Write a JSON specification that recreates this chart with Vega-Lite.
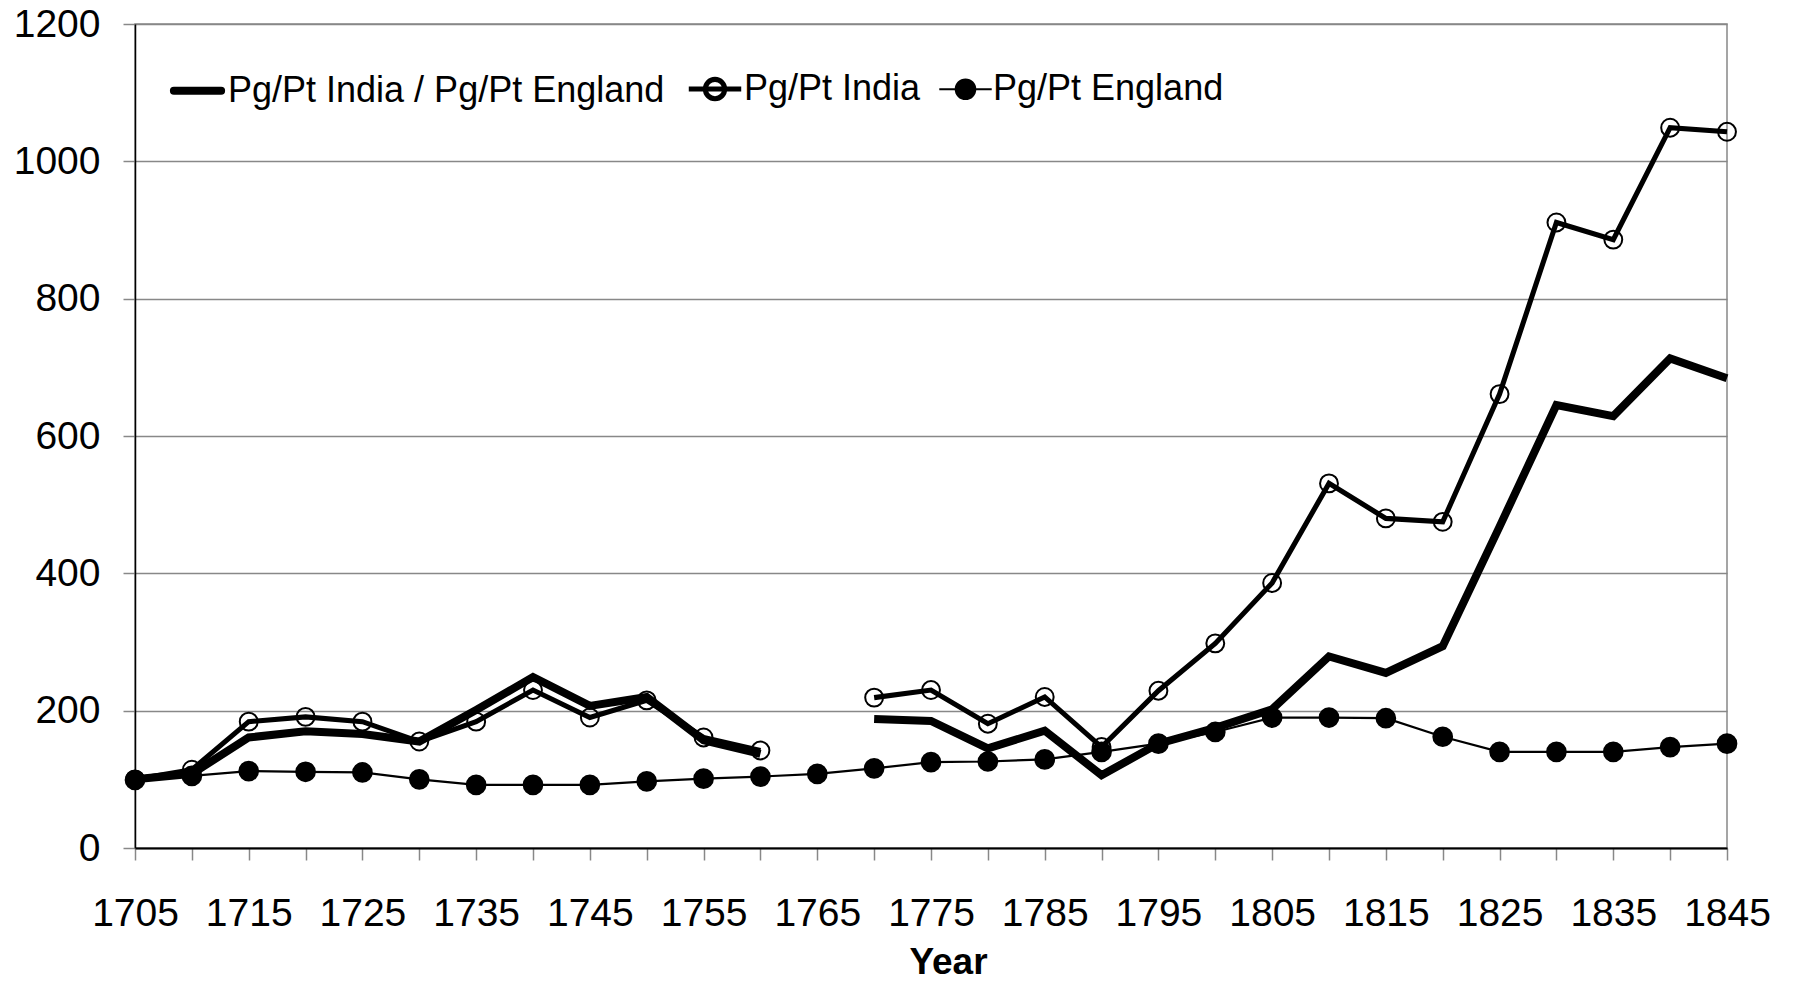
{
  "$schema": "https://vega.github.io/schema/vega-lite/v6.json",
  "autosize": {"type": "none"},
  "width": 1592,
  "height": 824,
  "padding": {"left": 135, "top": 24, "right": 66, "bottom": 135},
  "background": "white",
  "config": {
    "font": "Liberation Sans",
    "view": {"stroke": "#888888", "strokeWidth": 1.5}
  },
  "data": {
    "values": [
      {"year": 1705, "series": "Pg/Pt India / Pg/Pt England", "value": 100},
      {"year": 1710, "series": "Pg/Pt India / Pg/Pt England", "value": 108},
      {"year": 1715, "series": "Pg/Pt India / Pg/Pt England", "value": 161},
      {"year": 1720, "series": "Pg/Pt India / Pg/Pt England", "value": 170},
      {"year": 1725, "series": "Pg/Pt India / Pg/Pt England", "value": 166},
      {"year": 1730, "series": "Pg/Pt India / Pg/Pt England", "value": 155},
      {"year": 1735, "series": "Pg/Pt India / Pg/Pt England", "value": 201},
      {"year": 1740, "series": "Pg/Pt India / Pg/Pt England", "value": 249},
      {"year": 1745, "series": "Pg/Pt India / Pg/Pt England", "value": 207},
      {"year": 1750, "series": "Pg/Pt India / Pg/Pt England", "value": 220},
      {"year": 1755, "series": "Pg/Pt India / Pg/Pt England", "value": 157},
      {"year": 1760, "series": "Pg/Pt India / Pg/Pt England", "value": 137},
      {"year": 1765, "series": "Pg/Pt India / Pg/Pt England", "value": null},
      {"year": 1770, "series": "Pg/Pt India / Pg/Pt England", "value": 188},
      {"year": 1775, "series": "Pg/Pt India / Pg/Pt England", "value": 185},
      {"year": 1780, "series": "Pg/Pt India / Pg/Pt England", "value": 145},
      {"year": 1785, "series": "Pg/Pt India / Pg/Pt England", "value": 171},
      {"year": 1790, "series": "Pg/Pt India / Pg/Pt England", "value": 106},
      {"year": 1795, "series": "Pg/Pt India / Pg/Pt England", "value": 152},
      {"year": 1800, "series": "Pg/Pt India / Pg/Pt England", "value": 175},
      {"year": 1805, "series": "Pg/Pt India / Pg/Pt England", "value": 202},
      {"year": 1810, "series": "Pg/Pt India / Pg/Pt England", "value": 279},
      {"year": 1815, "series": "Pg/Pt India / Pg/Pt England", "value": 255},
      {"year": 1820, "series": "Pg/Pt India / Pg/Pt England", "value": 294},
      {"year": 1825, "series": "Pg/Pt India / Pg/Pt England", "value": 468},
      {"year": 1830, "series": "Pg/Pt India / Pg/Pt England", "value": 645},
      {"year": 1835, "series": "Pg/Pt India / Pg/Pt England", "value": 629},
      {"year": 1840, "series": "Pg/Pt India / Pg/Pt England", "value": 713},
      {"year": 1845, "series": "Pg/Pt India / Pg/Pt England", "value": 684},
      {"year": 1705, "series": "Pg/Pt India", "value": 100},
      {"year": 1710, "series": "Pg/Pt India", "value": 114},
      {"year": 1715, "series": "Pg/Pt India", "value": 184},
      {"year": 1720, "series": "Pg/Pt India", "value": 191},
      {"year": 1725, "series": "Pg/Pt India", "value": 184},
      {"year": 1730, "series": "Pg/Pt India", "value": 155},
      {"year": 1735, "series": "Pg/Pt India", "value": 184},
      {"year": 1740, "series": "Pg/Pt India", "value": 230},
      {"year": 1745, "series": "Pg/Pt India", "value": 190},
      {"year": 1750, "series": "Pg/Pt India", "value": 215},
      {"year": 1755, "series": "Pg/Pt India", "value": 161},
      {"year": 1760, "series": "Pg/Pt India", "value": 142},
      {"year": 1765, "series": "Pg/Pt India", "value": null},
      {"year": 1770, "series": "Pg/Pt India", "value": 219},
      {"year": 1775, "series": "Pg/Pt India", "value": 230},
      {"year": 1780, "series": "Pg/Pt India", "value": 181},
      {"year": 1785, "series": "Pg/Pt India", "value": 220},
      {"year": 1790, "series": "Pg/Pt India", "value": 147},
      {"year": 1795, "series": "Pg/Pt India", "value": 229},
      {"year": 1800, "series": "Pg/Pt India", "value": 298},
      {"year": 1805, "series": "Pg/Pt India", "value": 386},
      {"year": 1810, "series": "Pg/Pt India", "value": 531},
      {"year": 1815, "series": "Pg/Pt India", "value": 480},
      {"year": 1820, "series": "Pg/Pt India", "value": 475},
      {"year": 1825, "series": "Pg/Pt India", "value": 661},
      {"year": 1830, "series": "Pg/Pt India", "value": 911},
      {"year": 1835, "series": "Pg/Pt India", "value": 886},
      {"year": 1840, "series": "Pg/Pt India", "value": 1049},
      {"year": 1845, "series": "Pg/Pt India", "value": 1043},
      {"year": 1705, "series": "Pg/Pt England", "value": 99},
      {"year": 1710, "series": "Pg/Pt England", "value": 105},
      {"year": 1715, "series": "Pg/Pt England", "value": 112},
      {"year": 1720, "series": "Pg/Pt England", "value": 111},
      {"year": 1725, "series": "Pg/Pt England", "value": 110},
      {"year": 1730, "series": "Pg/Pt England", "value": 100},
      {"year": 1735, "series": "Pg/Pt England", "value": 92},
      {"year": 1740, "series": "Pg/Pt England", "value": 92},
      {"year": 1745, "series": "Pg/Pt England", "value": 92},
      {"year": 1750, "series": "Pg/Pt England", "value": 97},
      {"year": 1755, "series": "Pg/Pt England", "value": 101},
      {"year": 1760, "series": "Pg/Pt England", "value": 104},
      {"year": 1765, "series": "Pg/Pt England", "value": 108},
      {"year": 1770, "series": "Pg/Pt England", "value": 116},
      {"year": 1775, "series": "Pg/Pt England", "value": 125},
      {"year": 1780, "series": "Pg/Pt England", "value": 126},
      {"year": 1785, "series": "Pg/Pt England", "value": 129},
      {"year": 1790, "series": "Pg/Pt England", "value": 140},
      {"year": 1795, "series": "Pg/Pt England", "value": 152},
      {"year": 1800, "series": "Pg/Pt England", "value": 169},
      {"year": 1805, "series": "Pg/Pt England", "value": 190},
      {"year": 1810, "series": "Pg/Pt England", "value": 190},
      {"year": 1815, "series": "Pg/Pt England", "value": 189},
      {"year": 1820, "series": "Pg/Pt England", "value": 162},
      {"year": 1825, "series": "Pg/Pt England", "value": 140},
      {"year": 1830, "series": "Pg/Pt England", "value": 140},
      {"year": 1835, "series": "Pg/Pt England", "value": 140},
      {"year": 1840, "series": "Pg/Pt England", "value": 147},
      {"year": 1845, "series": "Pg/Pt England", "value": 152}
    ]
  },
  "encoding": {
    "x": {
      "field": "year",
      "type": "quantitative",
      "scale": {"domain": [1705, 1845], "nice": false, "zero": false},
      "axis": {
        "title": "Year",
        "titleFontSize": 37,
        "titleFontWeight": "bold",
        "titleColor": "black",
        "titleAnchor": null,
        "titleAlign": "center",
        "titleBaseline": "top",
        "titleX": 813,
        "titleY": 96,
        "values": [1705, 1710, 1715, 1720, 1725, 1730, 1735, 1740, 1745, 1750, 1755, 1760, 1765, 1770, 1775, 1780, 1785, 1790, 1795, 1800, 1805, 1810, 1815, 1820, 1825, 1830, 1835, 1840, 1845],
        "format": "d",
        "labelExpr": "(datum.value - 1705) % 10 === 0 ? datum.label : ''",
        "labelFontSize": 39,
        "labelColor": "black",
        "labelPadding": 34,
        "labelFlush": false,
        "labelOverlap": false,
        "labelBaseline": "top",
        "tickSize": 12,
        "tickColor": "#888888",
        "tickWidth": 1.5,
        "domainColor": "black",
        "domainWidth": 2,
        "grid": false
      }
    },
    "y": {
      "field": "value",
      "type": "quantitative",
      "scale": {"domain": [0, 1200], "nice": false},
      "axis": {
        "title": null,
        "values": [0, 200, 400, 600, 800, 1000, 1200],
        "format": "d",
        "labelFontSize": 39,
        "labelColor": "black",
        "labelPadding": 23,
        "labelBaseline": "middle",
        "tickSize": 12,
        "tickColor": "#888888",
        "tickWidth": 1.5,
        "domainColor": "black",
        "domainWidth": 1.5,
        "grid": true,
        "gridColor": "#888888",
        "gridWidth": 1.5,
        "gridOpacity": 1
      }
    }
  },
  "layer": [
    {
      "mark": {"type": "line", "invalid": "break-paths-show-domains", "strokeJoin": "miter"},
      "encoding": {
        "color": {
          "field": "series",
          "type": "nominal",
          "scale": {"domain": ["Pg/Pt India / Pg/Pt England", "Pg/Pt India", "Pg/Pt England"], "range": ["black", "black", "black"]},
          "legend": {
            "title": null,
            "orient": "none",
            "legendX": 32,
            "legendY": 36,
            "direction": "horizontal",
            "padding": 0,
            "columnPadding": 13,
            "labelOffset": 0,
            "labelFontSize": 36,
            "labelColor": "black",
            "labelLimit": 1000,
            "symbolSize": 2750,
            "symbolType": "stroke",
            "encode": {
              "symbols": {
                "update": {
                  "shape": {"signal": "datum.value === 'Pg/Pt India / Pg/Pt England' ? 'M-0.9,0H0.9' : 'M-1,0H1M-0.37,0A0.37,0.37 0 1,1 0.37,0A0.37,0.37 0 1,1 -0.37,0'"},
                  "fill": {"signal": "datum.value === 'Pg/Pt England' ? 'black' : 'transparent'"},
                  "stroke": {"value": "black"},
                  "strokeWidth": {"signal": "datum.value === 'Pg/Pt India / Pg/Pt England' ? 8 : 2"},
                  "strokeCap": {"signal": "datum.value === 'Pg/Pt India / Pg/Pt England' ? 'round' : 'butt'"},
                  "opacity": {"value": 1}
                }
              }
            }
          }
        },
        "strokeWidth": {
          "field": "series",
          "type": "nominal",
          "scale": {"domain": ["Pg/Pt India / Pg/Pt England", "Pg/Pt India", "Pg/Pt England"], "range": [8, 2.2, 2.2]},
          "legend": null
        }
      }
    },
    {
      "transform": [{"filter": "datum.series !== 'Pg/Pt India / Pg/Pt England' && isValid(datum.value)"}],
      "mark": {"type": "point", "shape": "circle", "stroke": "black", "strokeWidth": 2, "opacity": 1},
      "encoding": {
        "fill": {
          "field": "series",
          "type": "nominal",
          "scale": {"domain": ["Pg/Pt India", "Pg/Pt England"], "range": ["transparent", "black"]},
          "legend": null
        },
        "size": {
          "field": "series",
          "type": "nominal",
          "scale": {"domain": ["Pg/Pt India", "Pg/Pt England"], "range": [320, 350]},
          "legend": null
        }
      }
    }
  ]
}
